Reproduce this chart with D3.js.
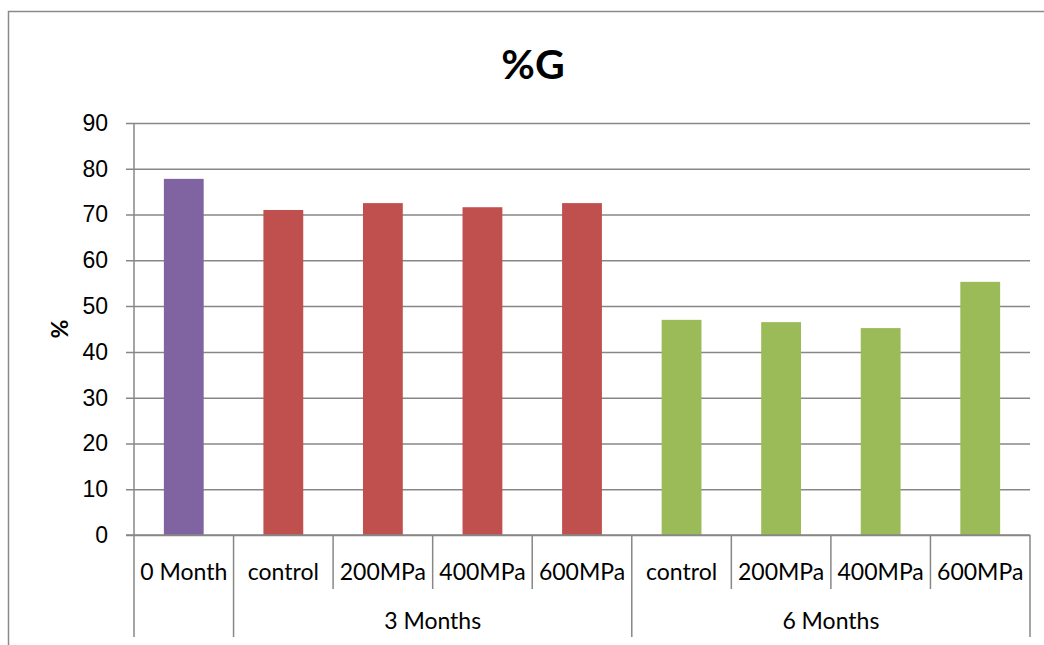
<!DOCTYPE html>
<html>
<head>
<meta charset="utf-8">
<script src="https://cdn.jsdelivr.net/npm/d3@7"></script>
<style>
  html, body { margin: 0; padding: 0; background: #fff; }
  svg { display: block; font-family: Lato, "Open Sans", sans-serif; }
</style>
</head>
<body>
<svg id="chart" width="1044" height="645"></svg>
<script>
// Germination percentage by storage time and pressure treatment
const categories = ["0 Month", "control", "200MPa", "400MPa", "600MPa", "control", "200MPa", "400MPa", "600MPa"];
const groups = ["", "3 Months", "3 Months", "3 Months", "3 Months", "6 Months", "6 Months", "6 Months", "6 Months"];
const values = [77.8, 71.0, 72.5, 71.6, 72.5, 47.0, 46.5, 45.2, 55.3];
const barColors = ["#8064A2", "#C0504D", "#C0504D", "#C0504D", "#C0504D", "#9BBB59", "#9BBB59", "#9BBB59", "#9BBB59"];
const yTicks = [0, 10, 20, 30, 40, 50, 60, 70, 80, 90];
const titleText = "%G";
const yTitle = "%";

const svg = d3.select("#chart");
const W = 1044, H = 645;
const plot = { left: 134, right: 1030, top: 123, bottom: 535 };
const gridColor = "#878787";
const labelSize = 23;

// Outer chart frame
svg.append("path")
  .attr("d", `M8.5,${H} V11.5 H${W}`)
  .attr("fill", "none")
  .attr("stroke", "#8a8a8a")
  .attr("stroke-width", 1.5);

const x = d3.scaleBand()
  .domain(d3.range(categories.length))
  .range([plot.left, plot.right])
  .paddingInner(0.6)
  .paddingOuter(0.3);

const xEdge = d3.scaleLinear().domain([0, categories.length]).range([plot.left, plot.right]);

const y = d3.scaleLinear().domain([0, 90]).range([plot.bottom, plot.top]);

// Horizontal gridlines with outside tick marks
const yAxis = d3.axisLeft(y)
  .tickValues(yTicks)
  .tickSize(-(plot.right - plot.left))
  .tickSizeOuter(0)
  .tickPadding(26)
  .tickFormat(d3.format("d"));

const gy = svg.append("g")
  .attr("transform", `translate(${plot.left},0)`)
  .call(yAxis);
gy.select(".domain").remove();
gy.selectAll(".tick line")
  .attr("x1", -8)
  .attr("stroke", gridColor)
  .attr("stroke-width", 1.5);
gy.selectAll(".tick text")
  .attr("font-size", labelSize)
  .attr("fill", "#000");

// Bars
svg.append("g").selectAll("rect")
  .data(values)
  .join("rect")
  .attr("x", (d, i) => x(i))
  .attr("width", x.bandwidth())
  .attr("y", d => y(d))
  .attr("height", d => y(0) - y(d))
  .attr("fill", (d, i) => barColors[i]);

// Vertical axis line
svg.append("line")
  .attr("x1", plot.left).attr("x2", plot.left)
  .attr("y1", plot.top).attr("y2", 637)
  .attr("stroke", gridColor).attr("stroke-width", 1.5);

// Baseline
svg.append("line")
  .attr("x1", plot.left - 8).attr("x2", plot.right)
  .attr("y1", plot.bottom).attr("y2", plot.bottom)
  .attr("stroke", gridColor).attr("stroke-width", 1.5);

// Category separators: short within a group, long between groups
const edges = d3.range(1, categories.length + 1);
svg.append("g").selectAll("line")
  .data(edges)
  .join("line")
  .attr("x1", i => xEdge(i)).attr("x2", i => xEdge(i))
  .attr("y1", plot.bottom)
  .attr("y2", i => (i === categories.length || groups[i] !== groups[i - 1]) ? 637 : 589)
  .attr("stroke", gridColor).attr("stroke-width", 1.5);

// Category labels
svg.append("g").selectAll("text")
  .data(categories)
  .join("text")
  .attr("x", (d, i) => xEdge(i + 0.5))
  .attr("y", 580)
  .attr("text-anchor", "middle")
  .attr("font-size", labelSize)
  .attr("fill", "#000")
  .text(d => d);

// Group labels
const groupNames = Array.from(new Set(groups.filter(g => g)));
svg.append("g").selectAll("text")
  .data(groupNames)
  .join("text")
  .attr("x", g => {
    const idx = groups.map((v, i) => v === g ? i : -1).filter(i => i >= 0);
    return (xEdge(idx[0]) + xEdge(idx[idx.length - 1] + 1)) / 2;
  })
  .attr("y", 629)
  .attr("text-anchor", "middle")
  .attr("font-size", labelSize)
  .attr("fill", "#000")
  .text(g => g);

// Title
svg.append("text")
  .attr("x", 533)
  .attr("y", 79)
  .attr("text-anchor", "middle")
  .attr("font-size", 41)
  .attr("font-weight", "bold")
  .attr("fill", "#000")
  .text(titleText);

// Y-axis title
svg.append("text")
  .attr("transform", `translate(68,${(plot.top + plot.bottom) / 2}) rotate(-90)`)
  .attr("text-anchor", "middle")
  .attr("font-size", 23)
  .attr("font-weight", "bold")
  .attr("fill", "#000")
  .text(yTitle);
</script>
</body>
</html>
